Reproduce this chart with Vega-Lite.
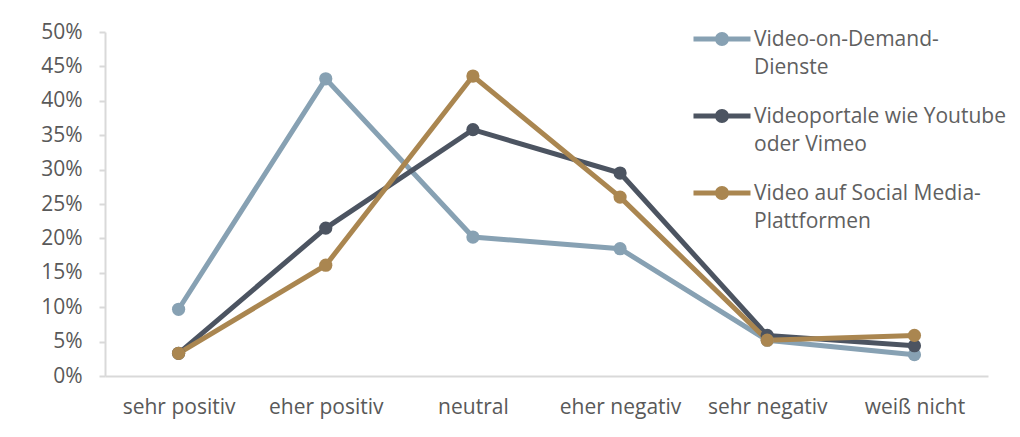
{
  "$schema": "https://vega.github.io/schema/vega-lite/v6.json",
  "autosize": {"type": "none"},
  "width": 883,
  "height": 344,
  "padding": {"left": 105, "top": 32, "right": 32, "bottom": 61},
  "background": "white",
  "config": {
    "view": {"stroke": null},
    "font": "Open Sans",
    "axis": {"labelFont": "Open Sans", "labelFontSize": 21, "labelColor": "#595959", "domainColor": "#D9D9D9", "domainWidth": 2, "tickColor": "#D9D9D9", "tickWidth": 2, "grid": false, "title": null}
  },
  "data": {
    "values": [
      {"cat": "sehr positiv", "series": "Video-on-Demand-Dienste", "value": 0.097},
      {"cat": "eher positiv", "series": "Video-on-Demand-Dienste", "value": 0.432},
      {"cat": "neutral", "series": "Video-on-Demand-Dienste", "value": 0.202},
      {"cat": "eher negativ", "series": "Video-on-Demand-Dienste", "value": 0.185},
      {"cat": "sehr negativ", "series": "Video-on-Demand-Dienste", "value": 0.052},
      {"cat": "weiß nicht", "series": "Video-on-Demand-Dienste", "value": 0.031},
      {"cat": "sehr positiv", "series": "Videoportale wie Youtube oder Vimeo", "value": 0.033},
      {"cat": "eher positiv", "series": "Videoportale wie Youtube oder Vimeo", "value": 0.215},
      {"cat": "neutral", "series": "Videoportale wie Youtube oder Vimeo", "value": 0.358},
      {"cat": "eher negativ", "series": "Videoportale wie Youtube oder Vimeo", "value": 0.295},
      {"cat": "sehr negativ", "series": "Videoportale wie Youtube oder Vimeo", "value": 0.059},
      {"cat": "weiß nicht", "series": "Videoportale wie Youtube oder Vimeo", "value": 0.044},
      {"cat": "sehr positiv", "series": "Video auf Social Media-Plattformen", "value": 0.033},
      {"cat": "eher positiv", "series": "Video auf Social Media-Plattformen", "value": 0.161},
      {"cat": "neutral", "series": "Video auf Social Media-Plattformen", "value": 0.436},
      {"cat": "eher negativ", "series": "Video auf Social Media-Plattformen", "value": 0.26},
      {"cat": "sehr negativ", "series": "Video auf Social Media-Plattformen", "value": 0.052},
      {"cat": "weiß nicht", "series": "Video auf Social Media-Plattformen", "value": 0.059}
    ]
  },
  "mark": {"type": "line", "strokeWidth": 5, "point": {"filled": true, "size": 175, "opacity": 1}},
  "encoding": {
    "x": {
      "field": "cat", "type": "nominal", "sort": null,
      "scale": {"type": "point", "padding": 0.5},
      "axis": {"labelAngle": 0, "ticks": false, "labelPadding": 20}
    },
    "y": {
      "field": "value", "type": "quantitative",
      "scale": {"domain": [0, 0.5], "nice": false},
      "axis": {"values": [0, 0.05, 0.1, 0.15, 0.2, 0.25, 0.3, 0.35, 0.4, 0.45, 0.5], "format": ".0%", "tickSize": 6, "labelPadding": 17}
    },
    "color": {
      "field": "series", "type": "nominal",
      "scale": {
        "domain": ["Video-on-Demand-Dienste", "Videoportale wie Youtube oder Vimeo", "Video auf Social Media-Plattformen"],
        "range": ["#87A1B3", "#4C5461", "#AA8650"]
      },
      "legend": {
        "orient": "none",
        "legendX": 588,
        "legendY": -22,
        "title": null,
        "symbolType": "M-1,-0.088H1V0.088H-1Z M0.245,0A0.245,0.245 0 1,1 -0.245,0A0.245,0.245 0 1,1 0.245,0Z",
        "symbolSize": 3250,
        "symbolStrokeWidth": 0,
        "labelFont": "Open Sans",
        "labelFontSize": 21,
        "labelColor": "#606060",
        "labelLimit": 400,
        "labelOffset": 3,
        "labelBaseline": "alphabetic",
        "rowPadding": 9,
        "labelExpr": "datum.label == 'Video-on-Demand-Dienste' ? ['\u00a0Video-on-Demand-', 'Dienste'] : datum.label == 'Videoportale wie Youtube oder Vimeo' ? ['Videoportale wie Youtube', 'oder Vimeo'] : ['Video auf Social Media-', 'Plattformen']",
        "encode": {
          "symbols": {"update": {"fill": {"scale": "color", "field": "value"}, "opacity": {"value": 1}}},
          "labels": {"update": {"dy": {"value": 7}, "lineHeight": {"value": 28}}}
        }
      }
    }
  }
}
